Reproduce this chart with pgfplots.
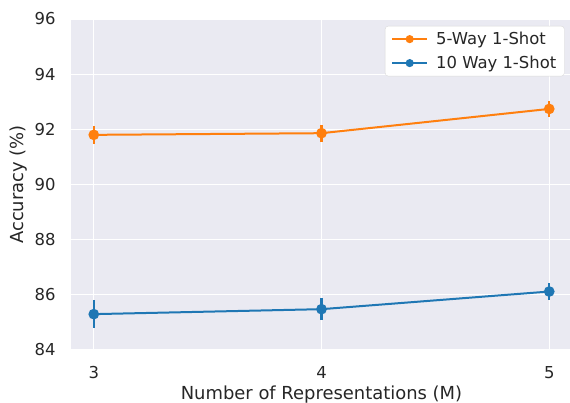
\documentclass[border=0pt]{standalone}
\usepackage{pgfplots}
\pgfplotsset{compat=1.18}
\usepackage{fontspec}
\setmainfont{DejaVu Sans}
\definecolor{sbbg}{HTML}{EAEAF2}
\definecolor{sborange}{HTML}{FF7F0E}
\definecolor{sbblue}{HTML}{1F77B4}
\definecolor{txt}{HTML}{262626}
\begin{document}
\begin{tikzpicture}
\begin{axis}[
  scale only axis,
  width=501bp, height=331bp,
  xmin=2.9, xmax=5.1, ymin=84, ymax=96,
  xtick={3,4,5}, ytick={84,86,...,96},
  axis background/.style={fill=sbbg},
  axis line style={draw=none},
  major tick length=0pt,
  grid=major,
  major grid style={white, line width=1.3bp},
  tick label style={font=\fontsize{16.5}{19}\selectfont, text=txt},
  label style={font=\fontsize{18}{21}\selectfont, text=txt},
  /pgf/number format/assume math mode=true,
  xlabel={Number of Representations (M)},
  ylabel={Accuracy (\%)},
  xticklabel style={yshift=-13bp},
  yticklabel style={xshift=-12bp},
  legend style={at={(0.985,0.979)}, anchor=north east, fill=white, draw=black!15,
    rounded corners=3bp, font=\fontsize{16.5}{19}\selectfont, text=txt,
    inner xsep=6bp, inner ysep=4bp, row sep=6bp, column sep=6bp},
  legend cell align=left,
  legend image code/.code={\draw[mark repeat=2,mark phase=2,#1, line width=2bp, mark size=3bp] plot coordinates {(0bp,0bp) (17.5bp,0bp) (35bp,0bp)};},
]
\coordinate (ll) at (rel axis cs:0,0);
\coordinate (ur) at (rel axis cs:1,1);
\addlegendimage{sborange, mark=*}
\addlegendentry{5-Way 1-Shot}
\addlegendimage{sbblue, mark=*}
\addlegendentry{10 Way 1-Shot}
\addplot[forget plot, color=sborange, line width=2bp, mark=*, mark size=4.3bp, mark options={solid, fill=sborange},
  error bars/.cd, y dir=both, y explicit, error mark=none,
  error bar style={line width=2.2bp, sborange}]
  coordinates {(3,91.80) +- (0,0.33) (4,91.86) +- (0,0.31) (5,92.74) +- (0,0.29)};
\addplot[forget plot, color=sbblue, line width=2bp, mark=*, mark size=4.3bp, mark options={solid, fill=sbblue},
  error bars/.cd, y dir=both, y explicit, error mark=none,
  error bar style={line width=2.2bp, sbblue}]
  coordinates {(3,85.30) +- (0,0.51) (4,85.48) +- (0,0.39) (5,86.12) +- (0,0.30)};
\end{axis}
\pgfresetboundingbox
\path[use as bounding box] ([shift={(-71bp,-53bp)}]ll) rectangle ([shift={(-2bp,19bp)}]ur);
\end{tikzpicture}
\end{document}
